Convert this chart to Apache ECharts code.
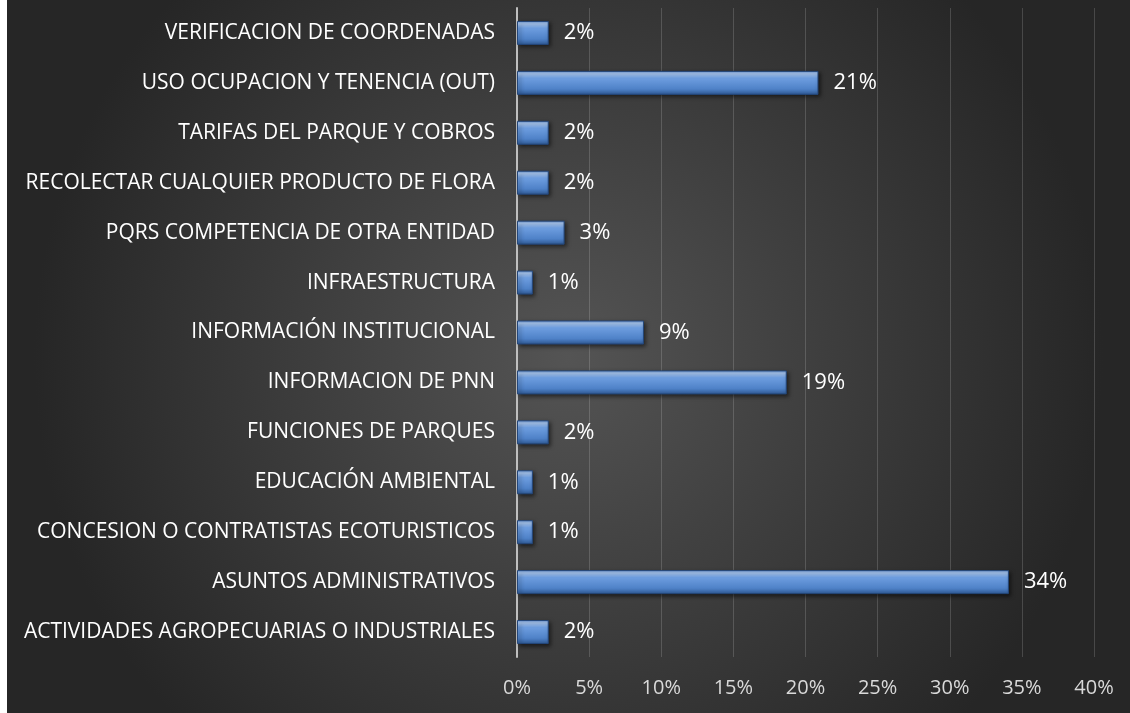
<!DOCTYPE html>
<html lang="es">
<head>
    <meta charset="UTF-8">
    <title>PQRS por tema</title>
    <style>
        html, body { margin: 0; padding: 0; background: #fff; }
        #chart { position: absolute; left: 7px; top: 0; width: 1123px; height: 713px; }
    </style>
</head>
<body>
    <div id="chart"></div>
    <script src="https://cdn.jsdelivr.net/npm/echarts@6/dist/echarts.min.js"></script>
    <script type="text/javascript">
        // categorias de abajo hacia arriba
        var temas = [
            'ACTIVIDADES AGROPECUARIAS O INDUSTRIALES',
            'ASUNTOS ADMINISTRATIVOS',
            'CONCESION O CONTRATISTAS ECOTURISTICOS',
            'EDUCACIÓN AMBIENTAL',
            'FUNCIONES DE PARQUES',
            'INFORMACION DE PNN',
            'INFORMACIÓN INSTITUCIONAL',
            'INFRAESTRUCTURA',
            'PQRS COMPETENCIA DE OTRA ENTIDAD',
            'RECOLECTAR CUALQUIER PRODUCTO DE FLORA',
            'TARIFAS DEL PARQUE Y COBROS',
            'USO OCUPACION Y TENENCIA (OUT)',
            'VERIFICACION DE COORDENADAS'
        ];
        // porcentaje
        var porcentajes = [2.2, 34.1, 1.1, 1.1, 2.2, 18.7, 8.8, 1.1, 3.3, 2.2, 2.2, 20.9, 2.2];
        var ejeMax = 40;
        var ejePaso = 5;

        var fuente = '"Open Sans", "Noto Sans", sans-serif';
        var myChart = echarts.init(document.getElementById('chart'));

        myChart.setOption({
            backgroundColor: {
                type: 'radial', x: 0.5, y: 0.5, r: 0.75,
                colorStops: [
                    { offset: 0, color: '#545454' },
                    { offset: 1, color: '#262626' }
                ]
            },
            grid: { left: 510, right: 36, top: 8, bottom: 56, containLabel: false },
            xAxis: {
                type: 'value',
                min: 0,
                max: ejeMax,
                interval: ejePaso,
                axisLine: { show: false },
                axisTick: { show: false },
                axisLabel: {
                    formatter: '{value}%',
                    color: '#d9d9d9',
                    fontFamily: fuente,
                    fontSize: 20,
                    margin: 21
                },
                splitLine: { lineStyle: { color: 'rgba(255,255,255,0.16)', width: 1 } }
            },
            yAxis: {
                type: 'category',
                data: temas,
                axisLine: { lineStyle: { color: '#bfbfbf', width: 2 } },
                axisTick: { show: false },
                axisLabel: {
                    color: '#ffffff',
                    fontFamily: fuente,
                    fontSize: 21,
                    margin: 22
                }
            },
            series: [{
                type: 'bar',
                data: porcentajes,
                barWidth: 24,
                itemStyle: {
                    color: {
                        type: 'linear', x: 0, y: 0, x2: 0, y2: 1,
                        colorStops: [
                            { offset: 0, color: '#6f9cdc' },
                            { offset: 0.12, color: '#a9c8f2' },
                            { offset: 0.3, color: '#6e9ee0' },
                            { offset: 0.75, color: '#4f82c8' },
                            { offset: 1, color: '#2f5a96' }
                        ]
                    },
                    borderColor: '#24477a',
                    borderWidth: 1,
                    shadowColor: 'rgba(0,0,0,0.55)',
                    shadowBlur: 4,
                    shadowOffsetX: 2,
                    shadowOffsetY: 2
                },
                label: {
                    show: true,
                    position: 'right',
                    distance: 15,
                    color: '#ffffff',
                    fontFamily: fuente,
                    fontSize: 22,
                    formatter: function (p) { return Math.round(p.value) + '%'; }
                }
            }]
        });
    </script>
</body>
</html>
